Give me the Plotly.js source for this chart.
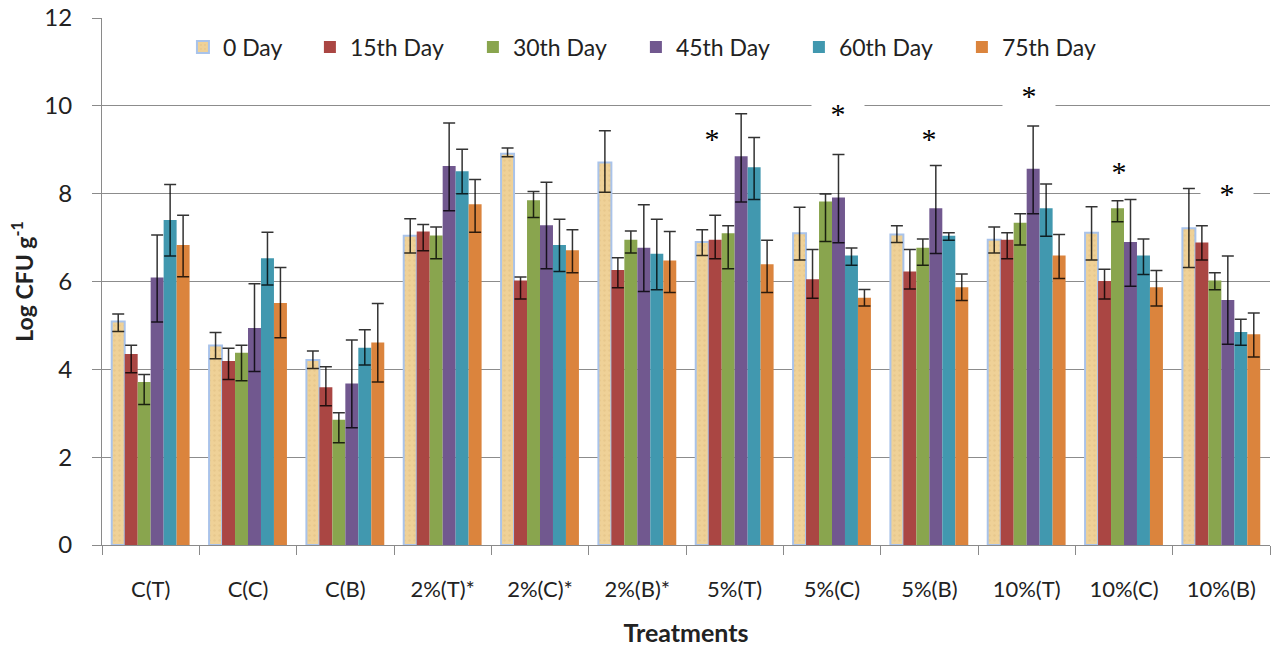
<!DOCTYPE html>
<html>
<head>
<meta charset="utf-8">
<script src="https://cdn.plot.ly/plotly-3.0.1.min.js"></script>
<style>html,body{margin:0;padding:0;background:#fff;}#chart{width:1274px;height:647px;}</style>
</head>
<body>
<div id="chart"></div>
<script>
// Categories and series
const treatments = ["C(T)","C(C)","C(B)","2%(T)*","2%(C)*","2%(B)*","5%(T)","5%(C)","5%(B)","10%(T)","10%(C)","10%(B)"];
const seriesNames = ["0 Day","15th Day","30th Day","45th Day","60th Day","75th Day"];

// Mean values (Log CFU g-1)
const day0  = [5.09,4.54,4.21,7.04,8.91,8.71,6.90,7.10,7.07,6.95,7.11,7.21];
const day15 = [4.35,4.19,3.59,7.14,6.02,6.26,6.95,6.05,6.23,6.95,6.01,6.89];
const day30 = [3.71,4.38,2.85,7.05,7.85,6.95,7.10,7.82,6.77,7.34,7.67,6.02];
const day45 = [6.09,4.94,3.68,8.63,7.28,6.77,8.85,7.91,7.67,8.57,6.90,5.58];
const day60 = [7.40,6.53,4.49,8.51,6.83,6.63,8.60,6.59,7.04,7.67,6.59,4.85];
const day75 = [6.83,5.51,4.61,7.76,6.71,6.48,6.39,5.63,5.87,6.59,5.87,4.80];

// Error bar upper and lower ends
const hi0  = [5.26,4.84,4.42,7.43,9.04,9.43,7.18,7.69,7.27,7.24,7.70,8.12];
const lo0  = [4.86,4.24,4.02,6.65,8.84,8.03,6.59,6.49,6.89,6.65,6.49,6.32];
const hi15 = [4.55,4.48,4.06,7.30,6.10,6.54,7.51,6.73,6.73,7.11,6.28,7.27];
const lo15 = [3.92,3.77,3.17,6.70,5.60,5.86,6.52,5.62,5.83,6.52,5.60,6.49];
const hi30 = [3.88,4.55,3.01,7.24,8.05,7.15,7.27,7.99,6.97,7.54,7.84,6.20];
const lo30 = [3.20,3.74,2.33,6.52,7.46,6.65,6.29,6.91,6.37,6.83,7.36,5.81];
const hi45 = [7.06,5.95,4.67,9.61,8.26,7.75,9.82,8.89,8.64,9.54,7.87,6.58];
const lo45 = [5.08,3.95,2.67,7.61,6.29,5.77,7.81,6.88,6.64,7.54,5.89,4.57];
const hi60 = [8.21,7.12,4.90,9.01,7.42,7.42,9.28,6.76,7.11,8.22,6.97,5.14];
const lo60 = [6.58,5.92,4.10,8.00,6.23,5.81,7.87,6.37,6.94,7.03,6.16,4.55];
const hi75 = [7.51,6.32,5.50,8.32,7.18,7.14,6.94,5.82,6.17,7.07,6.25,5.28];
const lo75 = [6.11,4.72,3.71,7.12,6.20,5.75,5.75,5.44,5.57,6.07,5.44,4.28];

// Significance markers
const starCats = ["5%(T)","5%(C)","5%(B)","10%(T)","10%(C)","10%(B)"];
const starY    = [9.34,9.91,9.34,10.32,8.59,8.09];
const starShift= [-23,6,0,2,-5,6];

const values = [day0,day15,day30,day45,day60,day75];
const his = [hi0,hi15,hi30,hi45,hi60,hi75];
const los = [lo0,lo15,lo30,lo45,lo60,lo75];
const colors = ["#EFD197","#AA4643","#89A54E","#71588F","#4198AF","#DB843D"];

const traces = seriesNames.map((name,i)=>{
  const v = values[i];
  const t = {
    type:"bar", name:name, x:treatments, y:v,
    legend: i===0 ? "legend" : "legend2",
    marker:{color:colors[i], line:{width:0}},
    error_y:{type:"data", symmetric:false,
      array:his[i].map((h,k)=>+(h-v[k]).toFixed(3)),
      arrayminus:v.map((m,k)=>+(m-los[i][k]).toFixed(3)),
      color:"rgba(0,0,0,0.8)", thickness:1.5, width:6}
  };
  if(i===0){
    t.marker = {color:colors[0], line:{color:"#A9C3EA", width:2},
      pattern:{shape:".", fillmode:"overlay", fgcolor:"#D9B878", fgopacity:0.35, size:5, solidity:0.2}};
  }
  return t;
});

const annotations = starCats.map((c,i)=>({
  x:c, y:starY[i], xref:"x", yref:"y", xshift:starShift[i], yshift:-3,
  text:"*", showarrow:false, bgcolor:"#ffffff", width:50, height:28,
  font:{family:"Liberation Serif, serif", size:30, color:"#000"}
}));

const legendFont = {size:23, color:"#222"};
const layout = {
  width:1274, height:647,
  margin:{l:102, r:4, t:18, b:102},
  paper_bgcolor:"#fff", plot_bgcolor:"#fff",
  barmode:"group", bargap:0.2, bargroupgap:0,
  font:{family:"Lato, sans-serif", color:"#222"},
  showlegend:true,
  legend:{orientation:"h", x:0.0693, y:0.945, xanchor:"left", yanchor:"middle",
    font:legendFont, bgcolor:"rgba(255,255,255,0)"},
  legend2:{orientation:"h", x:0.178, y:0.945, xanchor:"left", yanchor:"middle",
    font:legendFont, bgcolor:"rgba(255,255,255,0)",
    entrywidth:118, entrywidthmode:"pixels", traceorder:"normal"},
  xaxis:{type:"category", tickson:"boundaries", ticks:"outside", ticklen:9, tickcolor:"#8a8a8a",
    showline:true, linecolor:"#8a8a8a", linewidth:1, showgrid:false,
    tickfont:{size:22, color:"#222"}, ticklabelstandoff:25,
    title:{text:"<b>Treatments</b>", font:{size:25, color:"#222"}, standoff:23}},
  yaxis:{range:[0,12], dtick:2, tick0:0, ticks:"outside", ticklen:9, tickcolor:"#8a8a8a",
    showline:true, linecolor:"#8a8a8a", linewidth:1,
    showgrid:true, gridcolor:"#8c8c8c", gridwidth:1, zeroline:false,
    tickfont:{size:24, color:"#222"}, ticklabelstandoff:15,
    title:{text:"<b>Log CFU g<sup>-1</sup></b>", font:{size:23, color:"#222"}, standoff:4}},
  annotations:annotations
};

Plotly.newPlot("chart", traces, layout, {displayModeBar:false, staticPlot:true});
</script>
</body>
</html>
